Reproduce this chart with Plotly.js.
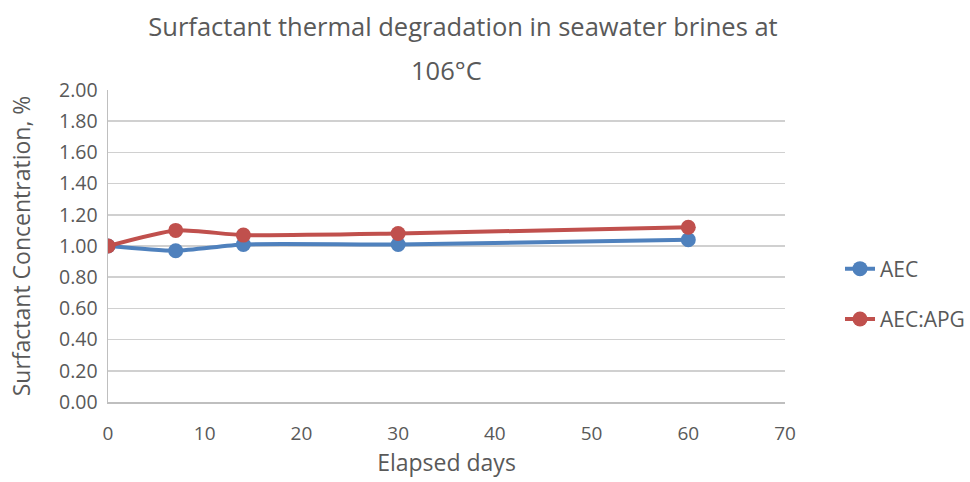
<!DOCTYPE html>
<html><head><meta charset="utf-8">
<script src="https://cdn.plot.ly/plotly-3.0.1.min.js"></script>
<style>html,body{margin:0;padding:0;background:#fff}#chart{width:970px;height:482px}</style>
</head><body><div id="chart"></div>
<script>
const days = [0, 7, 14, 30, 60];
const aec = [1.00, 0.97, 1.01, 1.01, 1.04];
const aecApg = [1.00, 1.10, 1.07, 1.08, 1.12];
const seriesNames = ['AEC', 'AEC:APG'];
const yTicks = [0, 0.2, 0.4, 0.6, 0.8, 1.0, 1.2, 1.4, 1.6, 1.8, 2.0];
const titleLines = ['Surfactant thermal degradation in seawater brines at', '106°C'];

const font = 'Open Sans, Noto Sans, sans-serif';
const txt = '#595959';
const traces = [
  {x: days, y: aec, name: seriesNames[0], legendgroup: 'a', mode: 'lines+markers',
   line: {color: '#4f81bd', width: 4, shape: 'spline', smoothing: 0.6}, marker: {color: '#4f81bd', size: 15}},
  {x: days, y: aecApg, name: seriesNames[1], legendgroup: 'b', mode: 'lines+markers',
   line: {color: '#c0504d', width: 4, shape: 'spline', smoothing: 0.6}, marker: {color: '#c0504d', size: 15}}
];
const layout = {
  width: 970, height: 482,
  margin: {l: 108, r: 185, t: 90, b: 80},
  paper_bgcolor: '#fff', plot_bgcolor: '#fff',
  font: {family: font, color: txt, size: 19},
  title: {text: titleLines[0],
    font: {size: 25.5, color: txt, family: font}, x: 463 / 970, xref: 'container', xanchor: 'center',
    y: 1 - 27 / 482, yanchor: 'middle', yref: 'container'},
  annotations: [{text: titleLines[1], xref: 'paper', yref: 'paper', x: 0.5, y: (402 - 70) / 312,
    xanchor: 'center', yanchor: 'middle', showarrow: false, font: {size: 25.5, color: txt, family: font}}],
  xaxis: {range: [0, 70], dtick: 10, tick0: 0, showgrid: false, zeroline: false,
    showline: true, linecolor: '#bfbfbf', linewidth: 1.5, ticks: 'outside', ticklen: 14, tickcolor: 'rgba(0,0,0,0)',
    tickfont: {size: 19, color: txt},
    title: {text: 'Elapsed days', font: {size: 23, color: txt}, standoff: 4}},
  yaxis: {range: [0, 2], tickvals: yTicks, ticktext: yTicks.map(v => v.toFixed(2)),
    showgrid: true, gridcolor: '#d0d0d0', gridwidth: 1.5, zeroline: false,
    showline: true, linecolor: '#bfbfbf', linewidth: 1.5, ticks: 'outside', ticklen: 5, tickcolor: 'rgba(0,0,0,0)',
    tickfont: {size: 19.5, color: txt},
    title: {text: 'Surfactant Concentration, %', font: {size: 23, color: txt}, standoff: 22}},
  showlegend: true,
  legend: {x: 840 / 970, xref: 'container', xanchor: 'left', y: 1 - 294 / 482, yref: 'container', yanchor: 'middle', traceorder: 'grouped',
    tracegroupgap: 20, font: {size: 21, color: txt}, bgcolor: 'rgba(0,0,0,0)'}
};
Plotly.newPlot('chart', traces, layout, {displayModeBar: false, staticPlot: true});
</script></body></html>
